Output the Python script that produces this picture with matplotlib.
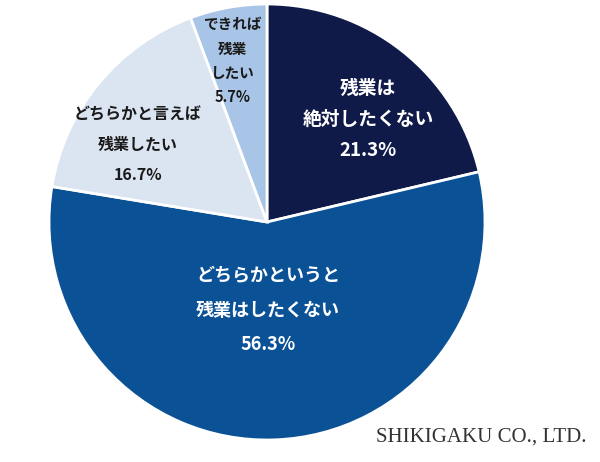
import matplotlib.pyplot as plt

plt.rcParams['font.family'] = ['Noto Sans CJK JP', 'DejaVu Sans']

# slices, clockwise from 12 o'clock
labels = ['残業は\n絶対したくない', 'どちらかというと\n残業はしたくない',
          'どちらかと言えば\n残業したい', 'できれば\n残業\nしたい']
shares = [21.3, 56.3, 16.7, 5.7]
colors = ['#0f1a48', '#0b5196', '#dbe5f1', '#a8c4e6']
text_colors = ['white', 'white', '#1a1a1a', '#1a1a1a']

# label placement (pixel coords, y from top) and sizes
label_pos = [(368, 88), (268, 276), (138, 115), (233, 24)]
label_step = [31, 34, 30, 24.5]
label_size = [13.5, 13, 11.5, 10.5]

fig = plt.figure(figsize=(6, 4.62), dpi=100)
ax = fig.add_axes([0, 0, 1, 1])

cx, cy, r = 267, 462 - 222, 218
ax.pie(shares, colors=colors, startangle=90, counterclock=False,
       center=(cx, cy), radius=r,
       wedgeprops=dict(edgecolor='white', linewidth=2))

for lab, val, tc, (x, y), step, fs in zip(labels, shares, text_colors,
                                           label_pos, label_step, label_size):
    lines = lab.split('\n') + [f'{val}%']
    for i, line in enumerate(lines):
        ax.text(x, 462 - (y + i * step), line, color=tc, fontsize=fs,
                fontweight='bold', ha='center', va='center')

ax.text(586, 462 - 437, 'SHIKIGAKU CO., LTD.', family='Liberation Serif',
        fontsize=15, color='#333333', ha='right', va='center')

ax.set_xlim(0, 600)
ax.set_ylim(0, 462)
ax.axis('off')

fig.savefig('out.png', dpi=100, facecolor='white')
